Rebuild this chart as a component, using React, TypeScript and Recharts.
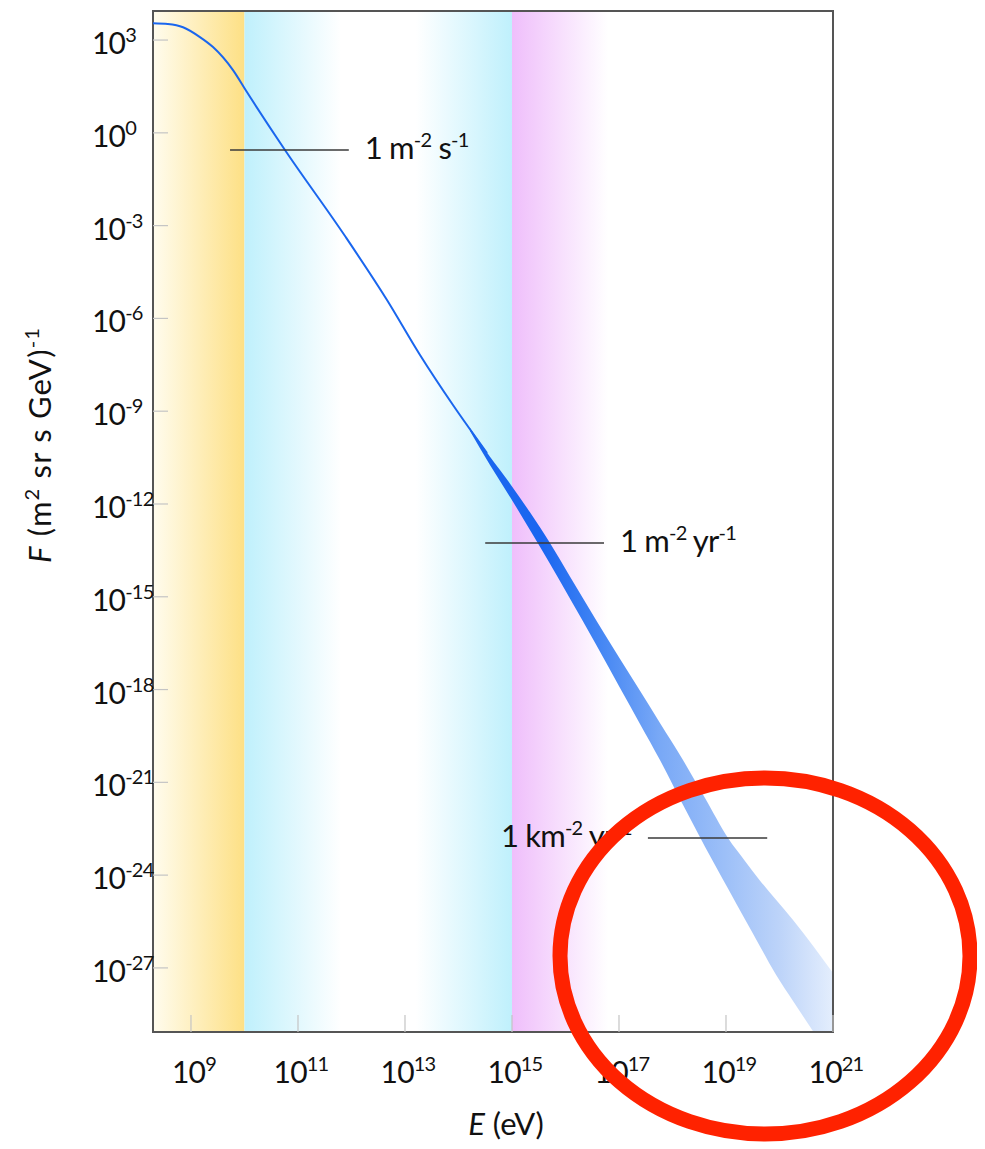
import React from "react";
import {
  ComposedChart,
  Line,
  Area,
  XAxis,
  YAxis,
  ReferenceArea,
  ReferenceLine,
} from "recharts";

// ---------- data ----------
const lineEnergy = [
  1.95e8, 3.7e8, 7.1e8, 1.47e9, 2.58e9, 6.1e9, 1.11e10, 5.71e10, 7.57e11,
  4.61e12, 1.91e13, 7.89e13, 3.41e14,
];
const lineFlux = [
  3.5e3, 3.3e3, 2.6e3, 1.25e3, 5.94e2, 1.07e2, 20.8, 0.278, 4.6e-4, 3.93e-6,
  6.55e-8, 1.58e-9, 4.44e-11,
];

const bandEnergy = [
  1.64e14, 3.88e14, 9.2e14, 2.17e15, 5.13e15, 1.21e16, 3.72e16, 1.04e17,
  2.47e17, 5.83e17, 1.57e18, 4.05e18, 1.09e19, 2.26e19, 4.33e19, 8.61e19,
  1.79e20, 4.33e20, 1.0e21,
];
const bandHigh = [
  2.86e-10, 3.34e-11, 4.55e-12, 5.37e-13, 5.46e-14, 4.51e-15, 1.77e-16,
  1.0e-17, 9.1e-19, 8.28e-20, 5.27e-21, 3.09e-22, 1.58e-23, 2.88e-24,
  6.64e-25, 1.6e-25, 3.54e-26, 4.92e-27, 6.84e-28,
];
const bandLow = [
  2.29e-10, 1.82e-11, 1.68e-12, 1.45e-13, 1.16e-14, 8.77e-16, 2.86e-17,
  1.14e-18, 7.74e-20, 5.27e-21, 1.87e-22, 8.28e-24, 3.69e-25, 3.72e-26,
  4.95e-27, 6.03e-28, 8.51e-29, 8.47e-30, 9.08e-31,
];

const xTicks = [1e9, 1e11, 1e13, 1e15, 1e17, 1e19, 1e21];
const yTicks = [
  1e3, 1, 1e-3, 1e-6, 1e-9, 1e-12, 1e-15, 1e-18, 1e-21, 1e-24, 1e-27,
];

// energy-band shading boundaries
const yellowBand = [1.95e8, 1e10];
const cyanBand = [1e10, 1e15];
const magentaBand = [1e15, 6.3e16];

// flux-rate annotations
const annotStart = [5.37e9, 3.16e14, 3.47e17];
const annotEnd = [8.91e11, 5.25e16, 5.89e19];
const annotFlux = [0.278, 5.5e-14, 1.58e-23];
const annotUnit = ["m", "m", "km"];
const annotTime = ["s", "yr", "yr"];
const annotSide = ["right", "right", "left"];

const X_MIN = 1.95e8;
const X_MAX = 1e21;
const Y_MIN = 8.47e-30;
const Y_MAX = 8.7e3;

// ---------- layout ----------
const W = 977;
const H = 1141;
const PLOT_LEFT = 145;
const PLOT_RIGHT = 825;
const PLOT_TOP = 3;
const PLOT_BOTTOM = 1024;
const FONT = "Lato, 'Open Sans', sans-serif";
const TXT = "#111";

const lineData = lineEnergy.map((e, i) => ({ energy: e, flux: lineFlux[i] }));
const bandData = bandEnergy.map((e, i) => ({
  energy: e,
  range: [bandLow[i], bandHigh[i]],
}));

function YTick(props: any) {
  const { y, payload } = props;
  const exp = Math.round(Math.log10(payload.value));
  return (
    <g>
      <line
        x1={PLOT_LEFT}
        x2={PLOT_LEFT + 15}
        y1={y}
        y2={y}
        stroke="#c4c4c4"
        strokeWidth={1.2}
      />
      <text
        x={84}
        y={y + 14}
        fontSize={30}
        letterSpacing={-0.8}
        fill={TXT}
        fontFamily={FONT}
      >
        10
        <tspan dy={-12} fontSize={20}>
          {String(exp)}
        </tspan>
      </text>
    </g>
  );
}

function XTick(props: any) {
  const { x, payload } = props;
  const exp = Math.round(Math.log10(payload.value));
  return (
    <g>
      <line
        x1={x}
        x2={x}
        y1={PLOT_BOTTOM}
        y2={PLOT_BOTTOM - 17}
        stroke="#c4c4c4"
        strokeWidth={1.2}
      />
      <text
        x={x + 3}
        y={PLOT_BOTTOM + 51}
        fontSize={30}
        letterSpacing={-0.8}
        fill={TXT}
        fontFamily={FONT}
        textAnchor="middle"
      >
        10
        <tspan dy={-12} fontSize={20}>
          {String(exp)}
        </tspan>
      </text>
    </g>
  );
}

function makeAnnotLabel(i: number) {
  return (props: any) => {
    const vb = props.viewBox || {};
    const x0 = vb.x ?? 0;
    const w = vb.width ?? 0;
    const y0 = vb.y ?? 0;
    const right = annotSide[i] === "right";
    return (
      <text
        x={right ? x0 + w + 16 : x0 - 16}
        y={y0 + 9}
        fontSize={31}
        letterSpacing={-0.8}
        fill={TXT}
        fontFamily={FONT}
        textAnchor={right ? "start" : "end"}
      >
        {"1 " + annotUnit[i]}
        <tspan dy={-12} fontSize={20}>
          -2
        </tspan>
        <tspan dy={12}>{" " + annotTime[i]}</tspan>
        <tspan dy={-12} fontSize={20}>
          -1
        </tspan>
      </text>
    );
  };
}

function YTitle() {
  return (
    <text
      transform="translate(32,437) rotate(-90)"
      textAnchor="middle"
      dy={11}
      fontSize={31}
      letterSpacing={1.2}
      fill={TXT}
      fontFamily={FONT}
    >
      <tspan fontStyle="italic">F</tspan>
      {" (m"}
      <tspan dy={-12} fontSize={20}>
        2
      </tspan>
      <tspan dy={12}>{" sr s GeV)"}</tspan>
      <tspan dy={-12} fontSize={20}>
        -1
      </tspan>
    </text>
  );
}

function XTitle() {
  return (
    <text
      x={498}
      y={1127}
      textAnchor="middle"
      fontSize={31}
      fill={TXT}
      fontFamily={FONT}
    >
      <tspan fontStyle="italic">E</tspan>
      {" (eV)"}
    </text>
  );
}

export default function App() {
  return (
    <div style={{ position: "relative", width: W, height: H }}>
      <ComposedChart
        width={W}
        height={H}
        margin={{ top: PLOT_TOP, right: W - PLOT_RIGHT, bottom: 0, left: 0 }}
      >
        <defs>
          <linearGradient id="yellowGrad" x1="0" y1="0" x2="1" y2="0">
            <stop offset="0" stopColor="#fffcee" />
            <stop offset="1" stopColor="#fde085" />
          </linearGradient>
          <linearGradient id="cyanGrad" x1="0" y1="0" x2="1" y2="0">
            <stop offset="0" stopColor="#bff0fc" />
            <stop offset="0.36" stopColor="#ffffff" />
            <stop offset="0.64" stopColor="#ffffff" />
            <stop offset="1" stopColor="#bff0fc" />
          </linearGradient>
          <linearGradient id="magentaGrad" x1="0" y1="0" x2="1" y2="0">
            <stop offset="0" stopColor="#efbefb" />
            <stop offset="1" stopColor="#ffffff" />
          </linearGradient>
          <linearGradient id="bandGrad" x1="0" y1="0" x2="1" y2="0">
            <stop offset="0" stopColor="#1a66ee" />
            <stop offset="0.2" stopColor="#1b66f0" />
            <stop offset="0.33" stopColor="#3b80f3" />
            <stop offset="0.52" stopColor="#78a8f6" />
            <stop offset="0.7" stopColor="#9cbff8" />
            <stop offset="0.85" stopColor="#bcd3f9" />
            <stop offset="1" stopColor="#e4eefd" />
          </linearGradient>
        </defs>
        <XAxis
          dataKey="energy"
          type="number"
          scale="log"
          domain={[X_MIN, X_MAX]}
          allowDataOverflow
          ticks={xTicks}
          interval={0}
          tick={<XTick />}
          tickLine={false}
          axisLine={false}
          height={H - PLOT_BOTTOM}
          label={{ content: () => <XTitle /> }}
        />
        <YAxis
          type="number"
          scale="log"
          domain={[Y_MIN, Y_MAX]}
          allowDataOverflow
          ticks={yTicks}
          interval={0}
          tick={<YTick />}
          tickLine={false}
          axisLine={false}
          width={PLOT_LEFT}
          label={{ content: () => <YTitle /> }}
        />
        <ReferenceArea
          x1={yellowBand[0]}
          x2={yellowBand[1]}
          y1={Y_MIN}
          y2={Y_MAX}
          fill="url(#yellowGrad)"
          fillOpacity={1}
          stroke="none"
        />
        <ReferenceArea
          x1={cyanBand[0]}
          x2={cyanBand[1]}
          y1={Y_MIN}
          y2={Y_MAX}
          fill="url(#cyanGrad)"
          fillOpacity={1}
          stroke="none"
        />
        <ReferenceArea
          x1={magentaBand[0]}
          x2={magentaBand[1]}
          y1={Y_MIN}
          y2={Y_MAX}
          fill="url(#magentaGrad)"
          fillOpacity={1}
          stroke="none"
        />
        <Area
          data={bandData}
          dataKey="range"
          type="monotone"
          stroke="none"
          fill="url(#bandGrad)"
          fillOpacity={1}
          isAnimationActive={false}
        />
        <Line
          data={lineData}
          dataKey="flux"
          type="monotone"
          stroke="#1a66ee"
          strokeWidth={2}
          dot={false}
          isAnimationActive={false}
        />
        {annotFlux.map((f, i) => (
          <ReferenceLine
            key={i}
            segment={[
              { x: annotStart[i], y: f },
              { x: annotEnd[i], y: f },
            ]}
            stroke="#3a3a3a"
            strokeWidth={1.6}
            label={makeAnnotLabel(i)}
          />
        ))}
        <ReferenceArea
          x1={X_MIN}
          x2={X_MAX}
          y1={Y_MIN}
          y2={Y_MAX}
          fill="none"
          stroke="#555"
          strokeWidth={2}
        />
      </ComposedChart>
      <svg
        width={W}
        height={H}
        style={{ position: "absolute", left: 0, top: 0, pointerEvents: "none" }}
      >
        <ellipse
          cx={757}
          cy={948}
          rx={205}
          ry={178}
          fill="none"
          stroke="#ff2200"
          strokeWidth={15}
        />
      </svg>
    </div>
  );
}
